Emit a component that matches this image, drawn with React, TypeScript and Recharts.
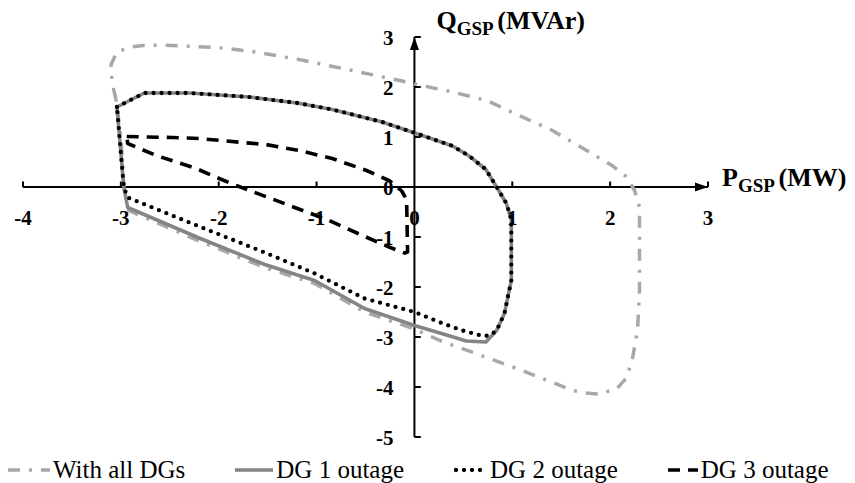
import { LineChart, Line, XAxis, YAxis, ReferenceLine, ReferenceDot } from 'recharts';

const WIDTH = 855;
const HEIGHT = 483;
const FONT = "'Liberation Serif', 'Times New Roman', serif";

const xTicks = [-4, -3, -2, -1, 0, 1, 2, 3];
const yTicks = [3, 2, 1, 0, -1, -2, -3, -4, -5];

// With all DGs - closed PQ boundary (P in MW, Q in MVAr)
const allDGsP = [-3.05, -3.09, -3.1, -3.04, -2.9, -2.74, -2.47, -2.02, -1.69, -1.18, -0.66, -0.15, 0.05, 0.39, 0.74, 1.07, 1.41, 1.76, 2.02, 2.17, 2.25, 2.3, 2.3, 2.3, 2.28, 2.23, 2.17, 2.07, 1.89, 1.75, 1.62, 1.1, 0.6, 0.26, 0, -0.51, -1.02, -1.53, -2.2, -2.92, -2.97, -3.0, -3.05];
const allDGsQ = [1.75, 2.1, 2.45, 2.7, 2.8, 2.84, 2.83, 2.79, 2.72, 2.55, 2.34, 2.13, 2.04, 1.9, 1.73, 1.43, 1.13, 0.73, 0.43, 0.2, -0.07, -0.4, -1.07, -2.07, -2.87, -3.41, -3.81, -4.03, -4.14, -4.12, -4.07, -3.67, -3.31, -3.07, -2.84, -2.5, -1.93, -1.61, -1.08, -0.47, 0, 1.0, 1.75];

// DG 1 outage
const dg1P = [-3.04, -2.76, -2.3, -1.69, -1.2, -0.84, -0.33, 0.05, 0.39, 0.56, 0.73, 0.84, 0.94, 0.99, 0.99, 0.99, 0.96, 0.92, 0.84, 0.73, 0.53, 0.26, 0, -0.51, -1.02, -1.53, -2.2, -2.93, -2.97, -3.04];
const dg1Q = [1.6, 1.88, 1.88, 1.8, 1.68, 1.55, 1.3, 1.05, 0.82, 0.62, 0.35, 0.0, -0.33, -0.65, -1.3, -1.87, -2.15, -2.53, -2.87, -3.1, -3.08, -2.92, -2.77, -2.43, -1.87, -1.55, -1.02, -0.41, 0, 1.6];

// DG 2 outage
const dg2P = [-3.04, -2.76, -2.3, -1.69, -1.2, -0.84, -0.33, 0.05, 0.39, 0.56, 0.73, 0.84, 0.94, 0.99, 0.99, 0.99, 0.96, 0.92, 0.84, 0.77, 0.7, 0.49, 0.29, 0, -0.51, -1.02, -1.53, -2.2, -2.93, -2.97, -3.04];
const dg2Q = [1.6, 1.88, 1.88, 1.8, 1.68, 1.55, 1.3, 1.05, 0.82, 0.62, 0.35, 0.0, -0.33, -0.65, -1.3, -1.87, -2.15, -2.53, -2.87, -2.97, -2.98, -2.87, -2.73, -2.5, -2.23, -1.73, -1.31, -0.79, -0.21, 0, 1.6];

// DG 3 outage
const dg3P = [-2.94, -2.47, -2.2, -1.76, -1.52, -1.18, -0.84, -0.49, -0.25, -0.13, -0.08, -0.07, -0.1, -0.26, -0.53, -0.87, -1.82, -2.02, -2.23, -2.64, -2.93, -2.94];
const dg3Q = [1.01, 0.99, 0.97, 0.89, 0.85, 0.73, 0.57, 0.33, 0.12, -0.08, -0.25, -1.3, -1.32, -1.2, -0.97, -0.67, 0.03, 0.19, 0.37, 0.63, 0.87, 1.01];

const toPoints = (p: number[], q: number[]) => p.map((v, i) => ({ p: v, q: q[i] }));

const SERIES = [
  { name: 'With all DGs', data: toPoints(allDGsP, allDGsQ), stroke: '#a8a8a8', width: 3.5, dash: '12 9 3 9', cap: 'butt', sample: 42 },
  { name: 'DG 1 outage', data: toPoints(dg1P, dg1Q), stroke: '#858585', width: 3.6, dash: undefined, cap: 'butt', sample: 38 },
  { name: 'DG 2 outage', data: toPoints(dg2P, dg2Q), stroke: '#000000', width: 4.3, dash: '0 8', cap: 'round', sample: 33 },
  { name: 'DG 3 outage', data: toPoints(dg3P, dg3Q), stroke: '#000000', width: 3.6, dash: '12 8', cap: 'butt', sample: 30 },
];

const XAxisArrow = (props: any) => {
  const { x1, y1, x2, y2 } = props;
  const tip = Math.max(x1, x2);
  return (
    <g>
      <line x1={x1} y1={y1} x2={x2} y2={y2} stroke="#000" strokeWidth={2} />
      <polygon points={`${tip},${y1} ${tip - 13},${y1 - 4.5} ${tip - 13},${y1 + 4.5}`} fill="#000" />
    </g>
  );
};

const YAxisArrow = (props: any) => {
  const { x1, y1, x2, y2 } = props;
  const tip = Math.min(y1, y2);
  return (
    <g>
      <line x1={x1} y1={y1} x2={x2} y2={y2} stroke="#000" strokeWidth={2} />
      <polygon points={`${x1},${tip} ${x1 - 4.5},${tip + 13} ${x1 + 4.5},${tip + 13}`} fill="#000" />
    </g>
  );
};

const tickText = { fontFamily: FONT, fontSize: 21, fontWeight: 700, fill: '#000' };
const titleText = { fontFamily: FONT, fontSize: 26, fontWeight: 700, fill: '#000' };

export default function App() {
  return (
    <div style={{ position: 'absolute', left: 0, top: 0, width: WIDTH, height: HEIGHT, background: '#fff' }}>
      <LineChart width={WIDTH} height={HEIGHT} margin={{ top: 37, right: 147, bottom: 46, left: 23 }}>
        <XAxis type="number" dataKey="p" domain={[-4, 3]} allowDataOverflow hide />
        <YAxis type="number" dataKey="q" domain={[-5, 3]} allowDataOverflow hide />

        {/* axes through the origin */}
        <ReferenceLine y={0} stroke="#000" strokeWidth={2} shape={XAxisArrow} />
        <ReferenceLine x={0} stroke="#000" strokeWidth={2} shape={YAxisArrow} />

        {xTicks.filter((t) => t !== 0).map((t) => (
          <ReferenceLine key={`xt${t}`} segment={[{ x: t, y: 0 }, { x: t, y: 0.11 }]} stroke="#000" strokeWidth={2} />
        ))}
        {yTicks.filter((t) => t !== 0).map((t) => (
          <ReferenceLine key={`yt${t}`} segment={[{ x: 0, y: t }, { x: 0.065, y: t }]} stroke="#000" strokeWidth={2} />
        ))}

        {xTicks.map((t) => (
          <ReferenceDot
            key={`xl${t}`}
            x={t}
            y={0}
            ifOverflow="visible"
            shape={(p: any) => (
              <text x={p.cx} y={p.cy + 31} textAnchor="middle" dominantBaseline="central" {...tickText}>
                {t}
              </text>
            )}
          />
        ))}
        {yTicks.map((t) => (
          <ReferenceDot
            key={`yl${t}`}
            x={0}
            y={t}
            ifOverflow="visible"
            shape={(p: any) => (
              <text x={p.cx - 21} y={p.cy + 1} textAnchor="end" dominantBaseline="central" {...tickText}>
                {t}
              </text>
            )}
          />
        ))}

        {SERIES.map((s) => (
          <Line
            key={s.name}
            data={s.data}
            dataKey="q"
            name={s.name}
            type="linear"
            stroke={s.stroke}
            strokeWidth={s.width}
            strokeDasharray={s.dash}
            strokeLinecap={s.cap as any}
            strokeLinejoin="round"
            dot={false}
            activeDot={false}
            isAnimationActive={false}
          />
        ))}

        {/* axis titles */}
        <ReferenceDot
          x={0}
          y={3}
          ifOverflow="visible"
          shape={(p: any) => (
            <text x={p.cx + 22} y={p.cy - 8} {...titleText}>
              Q
              <tspan fontSize={19} dy={6}>GSP </tspan>
              <tspan dy={-6}>(MVAr)</tspan>
            </text>
          )}
        />
        <ReferenceDot
          x={3}
          y={0}
          ifOverflow="visible"
          shape={(p: any) => (
            <text x={p.cx + 14} y={p.cy - 1} {...titleText}>
              P
              <tspan fontSize={19} dy={6}>GSP </tspan>
              <tspan dy={-6}>(MW)</tspan>
            </text>
          )}
        />
      </LineChart>

      <div
        style={{
          position: 'absolute',
          left: 8,
          top: 457,
          display: 'flex',
          alignItems: 'center',
          gap: 50,
          fontFamily: FONT,
          fontSize: 25,
          lineHeight: '25px',
          color: '#000',
          whiteSpace: 'nowrap',
        }}
      >
        {SERIES.map((s) => (
          <div key={s.name} style={{ display: 'flex', alignItems: 'center' }}>
            <svg width={s.sample} height={10} style={{ display: 'block' }}>
              <line
                x1={s.cap === 'round' ? 2 : 0}
                y1={5}
                x2={s.sample}
                y2={5}
                stroke={s.stroke}
                strokeWidth={s.width}
                strokeDasharray={s.dash}
                strokeLinecap={s.cap as any}
              />
            </svg>
            <span style={{ marginLeft: 3 }}>{s.name}</span>
          </div>
        ))}
      </div>
    </div>
  );
}
